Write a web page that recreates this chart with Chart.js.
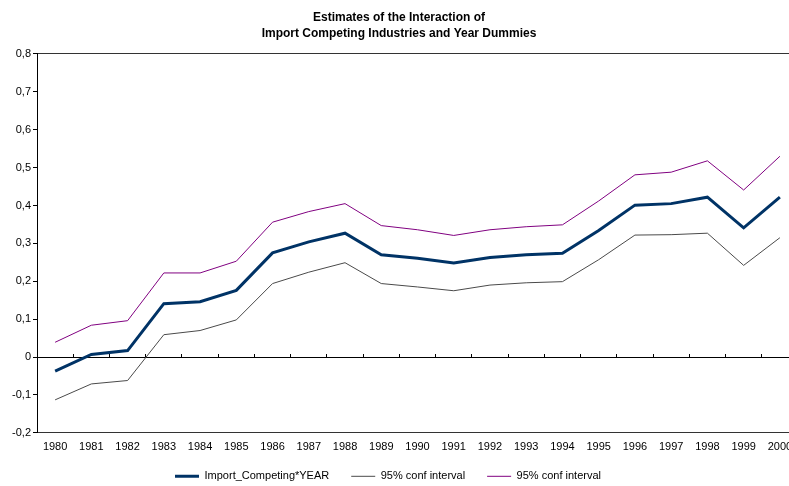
<!DOCTYPE html>
<html>
<head>
<meta charset="utf-8">
<script src="https://cdn.jsdelivr.net/npm/chart.js@4/dist/chart.umd.min.js"></script>
<style>
  html, body { margin: 0; padding: 0; background: #fff; overflow: hidden; }
  #wrap { width: 789px; height: 486px; overflow: hidden; position: relative; }
  #c { display: block; }
</style>
</head>
<body>
<div id="wrap"><canvas id="c" width="800" height="486"></canvas></div>
<script>
const years = ['1980','1981','1982','1983','1984','1985','1986','1987','1988','1989','1990',
               '1991','1992','1993','1994','1995','1996','1997','1998','1999','2000'];
const importCompeting = [-0.037, 0.007, 0.017, 0.141, 0.146, 0.176, 0.275, 0.304, 0.327, 0.270, 0.261,
                         0.248, 0.263, 0.270, 0.274, 0.334, 0.401, 0.405, 0.422, 0.341, 0.422];
const lowerCI = [-0.113, -0.071, -0.062, 0.059, 0.070, 0.098, 0.194, 0.224, 0.249, 0.194, 0.185,
                 0.175, 0.190, 0.196, 0.199, 0.257, 0.322, 0.323, 0.327, 0.242, 0.315];
const upperCI = [0.039, 0.084, 0.096, 0.222, 0.222, 0.253, 0.356, 0.384, 0.405, 0.347, 0.336,
                 0.321, 0.336, 0.344, 0.349, 0.412, 0.481, 0.488, 0.518, 0.441, 0.530];
const seriesNames = ['Import_Competing*YEAR', '95% conf interval', '95% conf interval'];
const titleLines = ['Estimates of the Interaction of', 'Import Competing Industries and Year Dummies'];
const yMin = -0.2, yMax = 0.8, yStep = 0.1;

const FONT = "'Liberation Sans', Arial, Helvetica, sans-serif";

const legendShift = {
  id: 'legendShift',
  afterLayout(chart) {
    const l = chart.legend;
    if (l) {
      l.left -= 11; l.right -= 11;
      const top = chart.chartArea.bottom + 38 - l.options.labels.padding;
      l.top = top;
      l.height = chart.height - top;
      l.bottom = chart.height;
    }
  }
};

new Chart(document.getElementById('c'), {
  type: 'line',
  data: {
    labels: years,
    datasets: [
      { label: seriesNames[0], data: importCompeting, borderColor: '#003366', backgroundColor: '#003366',
        borderWidth: 3, pointRadius: 0, tension: 0 },
      { label: seriesNames[1], data: lowerCI, borderColor: '#4a4a4a', backgroundColor: '#4a4a4a',
        borderWidth: 1, pointRadius: 0, tension: 0 },
      { label: seriesNames[2], data: upperCI, borderColor: '#800080', backgroundColor: '#800080',
        borderWidth: 1, pointRadius: 0, tension: 0 }
    ]
  },
  options: {
    responsive: false,
    animation: false,
    devicePixelRatio: 1,
    layout: { padding: { left: 0, right: 2, top: 0, bottom: 0 } },
    plugins: {
      title: {
        display: true,
        text: titleLines,
        color: '#000',
        font: { family: FONT, size: 12, weight: 'bold', lineHeight: 1.3333 },
        padding: { top: 10, bottom: 12 }
      },
      legend: {
        position: 'bottom',
        align: 'center',
        maxHeight: 25,
        labels: {
          color: '#000',
          font: { family: FONT, size: 11 },
          usePointStyle: true,
          pointStyle: 'line',
          pointStyleWidth: 24,
          padding: 22
        }
      },
      tooltip: { enabled: false }
    },
    scales: {
      x: {
        type: 'category',
        position: 'bottom',
        offset: true,
        grid: { display: false, drawTicks: false },
        border: { color: '#333', width: 1 },
        ticks: { color: '#000', font: { family: FONT, size: 11 }, padding: 7.5, maxRotation: 0, autoSkip: false }
      },
      x0: {
        type: 'category',
        axis: 'x',
        labels: years,
        position: { y: 0 },
        offset: true,
        grid: { offset: true, drawOnChartArea: false, drawTicks: true, tickLength: -4, color: '#000', tickColor: '#000' },
        border: { color: '#000', width: 1 },
        ticks: { display: false }
      },
      y: {
        min: yMin,
        max: yMax,
        border: { color: '#000', width: 1 },
        grid: {
          drawTicks: true,
          tickLength: 4,
          tickColor: '#000',
          color: (ctx) => (ctx.tick && Math.abs(ctx.tick.value - yMax) < 1e-9) ? '#333' : 'rgba(0,0,0,0)'
        },
        ticks: {
          stepSize: yStep,
          color: '#000',
          padding: 2,
          font: { family: FONT, size: 11 },
          callback: (v) => {
            const r = Math.round(v * 10) / 10;
            if (Math.abs(r) < 1e-9) return '0';
            return r.toFixed(1).replace('.', ',');
          }
        },
        afterFit(s) { s.width = 37; }
      }
    }
  },
  plugins: [legendShift]
});
</script>
</body>
</html>
